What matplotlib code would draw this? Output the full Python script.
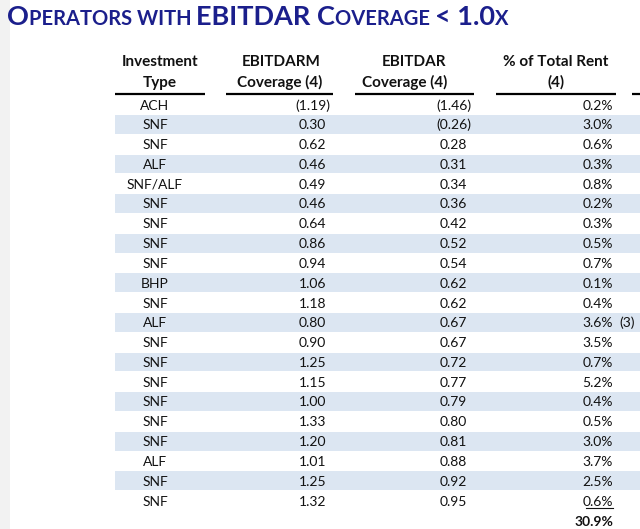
import matplotlib
matplotlib.use("Agg")
import matplotlib.pyplot as plt
from matplotlib.patches import Rectangle

plt.rcParams['font.family'] = ['Lato', 'DejaVu Sans']

# table data
inv_type = ['ACH', 'SNF', 'SNF', 'ALF', 'SNF/ALF', 'SNF', 'SNF', 'SNF', 'SNF', 'BHP',
            'SNF', 'ALF', 'SNF', 'SNF', 'SNF', 'SNF', 'SNF', 'SNF', 'ALF', 'SNF', 'SNF']
ebitdarm = [-1.19, 0.30, 0.62, 0.46, 0.49, 0.46, 0.64, 0.86, 0.94, 1.06,
            1.18, 0.80, 0.90, 1.25, 1.15, 1.00, 1.33, 1.20, 1.01, 1.25, 1.32]
ebitdar = [-1.46, -0.26, 0.28, 0.31, 0.34, 0.36, 0.42, 0.52, 0.54, 0.62,
           0.62, 0.67, 0.67, 0.72, 0.77, 0.79, 0.80, 0.81, 0.88, 0.92, 0.95]
rent_pct = [0.2, 3.0, 0.6, 0.3, 0.8, 0.2, 0.3, 0.5, 0.7, 0.1,
            0.4, 3.6, 3.5, 0.7, 5.2, 0.4, 0.5, 3.0, 3.7, 2.5, 0.6]
rent_notes = {11: '(3)'}
total_rent = 30.9
headers = [['Investment', 'Type'], ['EBITDARM', 'Coverage (4)'],
           ['EBITDAR', 'Coverage (4)'], ['% of Total Rent', '(4)']]

title_parts = [('O', 'big'), ('PERATORS WITH ', 'small'), ('EBITDAR ', 'big'),
               ('C', 'big'), ('OVERAGE ', 'small'), ('< 1.0', 'big'), ('X', 'small')]

W, H = 640, 529
fig = plt.figure(figsize=(W / 100, H / 100), dpi=100)
ax = fig.add_axes((0, 0, 1, 1))
ax.set_xlim(0, W)
ax.set_ylim(H, 0)
ax.axis('off')

navy = '#1b1f8c'
ink = '#111111'
stripe = '#dce6f2'
fs = 10

# faint grey strip on the left edge of the slide
ax.add_patch(Rectangle((0, 0), 10, H, color='#f2f2f2', lw=0))

# title in small caps, built piece by piece
renderer = fig.canvas.get_renderer()
x = 7
sizes = {'big': 19.5, 'small': 14.5}
for txt, kind in title_parts:
    t = ax.text(x, 25, txt, fontsize=sizes[kind], fontweight='bold', color=navy,
                ha='left', va='baseline')
    bb = t.get_window_extent(renderer)
    x += bb.width

# header block
line_spans = [(115, 205), (226, 333), (355, 474), (496, 616)]
head_x = [[160, 160], [281, 280], [414, 405], [556, 556]]
for hd, hx in zip(headers, head_x):
    for k, line in enumerate(hd):
        ax.text(hx[k], 66 + 21 * k, line, fontsize=11, fontweight='bold', color=ink,
                ha='center', va='baseline')
for x0, x1 in line_spans:
    ax.plot([x0, x1], [94, 94], color='black', lw=1.6, solid_capstyle='butt')
ax.plot([632, 640], [94, 94], color='black', lw=1.6, solid_capstyle='butt')

# rows
y0, dy = 104.5, 19.8
base = 5
for i in range(len(inv_type)):
    y = y0 + dy * i
    if i % 2 == 1:
        ax.add_patch(Rectangle((115, y - dy / 2 + 0.5), W - 115, dy - 1,
                               color=stripe, lw=0))
    ax.text(155, y + base, inv_type[i], fontsize=fs, color=ink, ha='center', va='baseline')
    for val, xr in ((ebitdarm[i], 326), (ebitdar[i], 467)):
        if val < 0:
            ax.text(xr + 4.5, y + base, '(%.2f)' % abs(val), fontsize=fs, color=ink,
                    ha='right', va='baseline')
        else:
            ax.text(xr, y + base, '%.2f' % val, fontsize=fs, color=ink,
                    ha='right', va='baseline')
    ax.text(613, y + base, '%.1f%%' % rent_pct[i], fontsize=fs, color=ink,
            ha='right', va='baseline')
    if i in rent_notes:
        ax.text(619, y + base, rent_notes[i], fontsize=fs, color=ink,
                ha='left', va='baseline')

# underline under the last rent figure and the bold total
ylast = y0 + dy * (len(inv_type) - 1)
ax.plot([586, 613], [ylast + 7.5, ylast + 7.5], color=ink, lw=0.8)
ax.text(613, ylast + 20 + base, '%.1f%%' % total_rent, fontsize=fs, fontweight='bold',
        color=ink, ha='right', va='baseline')

fig.savefig('out.png', dpi=100)
